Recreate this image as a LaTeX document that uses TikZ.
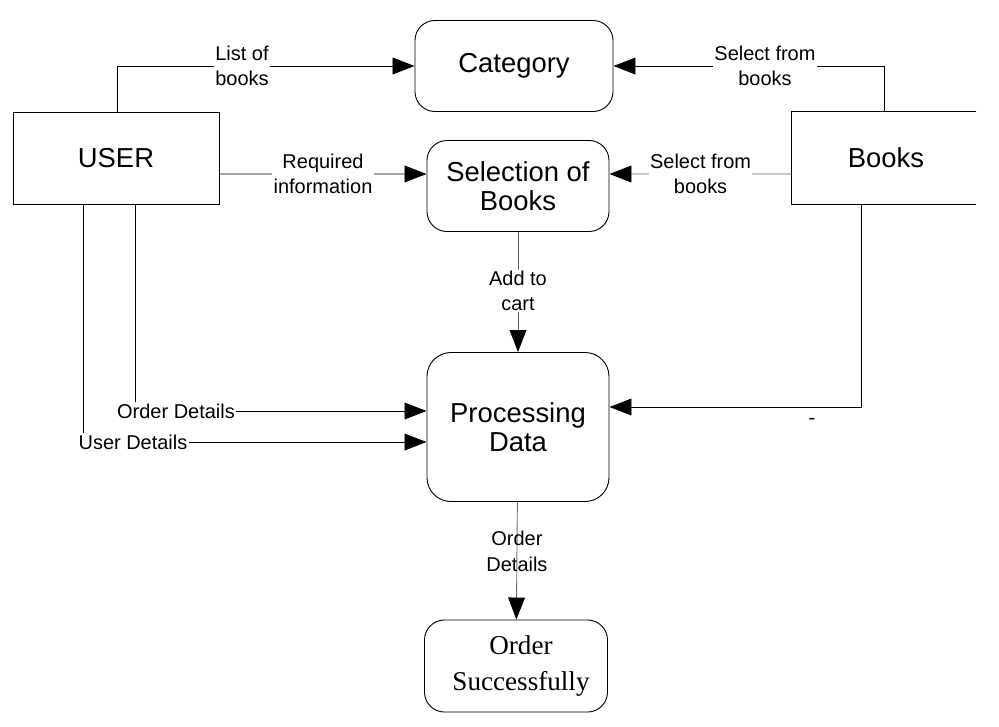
\documentclass[tikz,border=0pt]{standalone}
\usepackage{fontspec}
\setmainfont{Liberation Sans}
\newfontfamily\orderface{Liberation Serif}
\usetikzlibrary{arrows.meta, positioning}

\begin{document}
\begin{tikzpicture}[x=0.025cm, y=-0.025cm,
    flow/.style={draw, line width=0.65pt, -{Triangle[length=0.55cm, width=0.42cm, color=black]}},
    proc/.style={rectangle, rounded corners=0.5cm, draw, line width=0.65pt, align=center,
                 font=\fontsize{19.5}{21}\selectfont},
    entity/.style={rectangle, draw, line width=0.65pt, align=center,
                   font=\fontsize{19.5}{21}\selectfont},
    lbl/.style={fill=white, align=center, inner sep=1pt, font=\fontsize{14.2}{17.8}\selectfont}]

    \useasboundingbox (0,0) rectangle (999,726);

    % Entities
    \node[entity, minimum width=5.15cm, minimum height=2.3cm] (user) at (116,158) {USER};
    \node[minimum width=4.6cm, minimum height=2.3cm, font=\fontsize{19.5}{21}\selectfont] (books) at (884,158) {\hspace*{0.1cm}Books};
    \draw[line width=0.65pt] (books.north east) -- (books.north west) -- (books.south west) -- (books.south east);

    % Processes
    \node[proc, minimum width=4.95cm, minimum height=2.275cm] (cat) at (514,66) {Category};
    \node[proc, minimum width=4.55cm, minimum height=2.275cm] (sel) at (518,186) {Selection of\\Books};
    \node[proc, minimum width=4.55cm, minimum height=3.725cm, rounded corners=0.6cm] (data) at (518,427) {Processing\\Data};
    \node[proc, minimum width=4.575cm, minimum height=2.3cm,
          font=\orderface\fontsize{19.3}{26}\selectfont] (done) at (516,666) {\hspace*{0.25cm}Order\\\hspace*{0.25cm}Successfully};

    % Corner points
    \coordinate (lb) at (117,66);
    \coordinate (sb) at (884,66);
    \coordinate (bp) at (861,407);
    \coordinate (od) at (135,411);
    \coordinate (ud) at (83,442);

    % Arrows
    \draw[flow] (user.north -| lb) |- node[lbl, pos=0.71] {List of\\books} (cat.west);
    \draw[flow] (books.north -| sb) |- node[lbl, pos=0.72] {Select from\\books} (cat.east);
    \draw[flow] (user.east |- sel.west) ++(0,-12) -- node[lbl] {Required\\information} ([yshift=0.3cm]sel.west);
    \draw[flow, draw=black!60] (books.west |- sel.west) ++(0,-12) -- node[lbl] {Select from\\books} ([yshift=0.3cm]sel.east);
    \draw[flow, draw=black!60] (sel) -- node[lbl, pos=0.49] {Add to\\cart} (data);
    \draw[flow] (books.south -| bp) |- (data.east |- bp);
    \draw[flow] (user.south -| od) |- (data.west |- od);
    \node[lbl] (odlbl) at (176,411) {Order Details};
    \draw[flow] (user.south -| ud) |- (data.west |- ud);
    \node[lbl] (udlbl) at (133,442) {User Details};
    \draw[flow, draw=black!55] (data) -- node[align=center, pos=0.42, font=\fontsize{14.2}{19}\selectfont] {Order\\Details} (done);

    \node[font=\fontsize{14.2}{17.8}\selectfont] (dash) at (812,421) {-};
\end{tikzpicture}
\end{document}
